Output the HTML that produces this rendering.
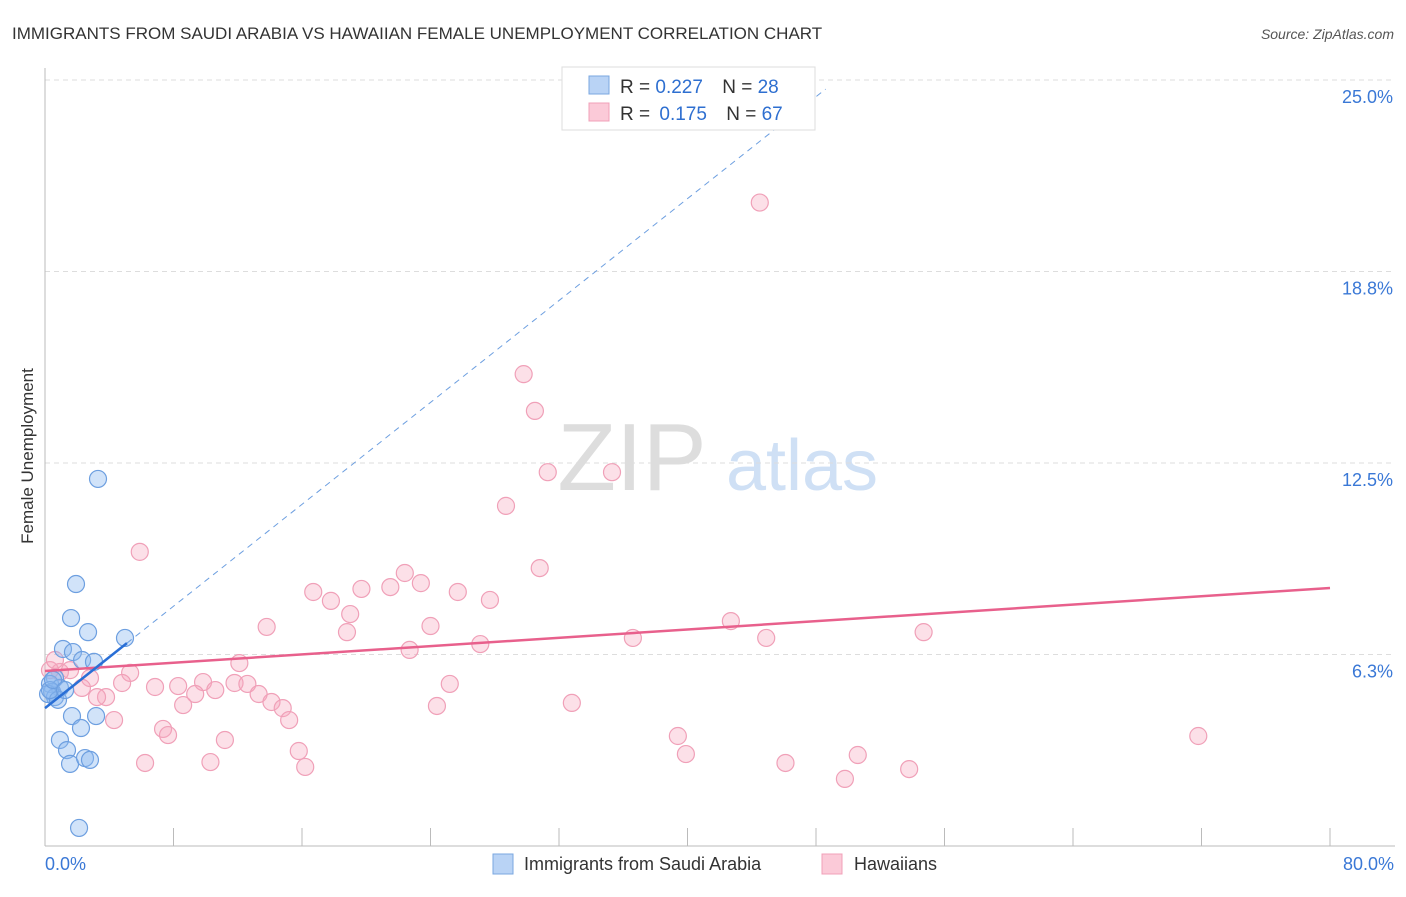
<!DOCTYPE html>
<html><head><meta charset="utf-8"><style>
body{margin:0;background:#fff;font-family:"Liberation Sans",sans-serif}
svg text{font-family:"Liberation Sans",sans-serif}
</style></head><body>
<svg id="c" width="1406" height="892">
<text x="12" y="39" font-size="17" fill="#333">IMMIGRANTS FROM SAUDI ARABIA VS HAWAIIAN FEMALE UNEMPLOYMENT CORRELATION CHART</text>
<text x="1394" y="39" font-size="14" fill="#555" text-anchor="end" font-style="italic">Source: ZipAtlas.com</text>
<text x="33" y="456" font-size="17" fill="#333" text-anchor="middle" transform="rotate(-90 33 456)">Female Unemployment</text>
<g><text x="632" y="490" font-size="96" fill="#ddd" text-anchor="middle" font-family="Liberation Serif,serif">ZIP</text><text x="802" y="490" font-size="72" fill="#cfe0f5" text-anchor="middle">atlas</text></g>
<g id="grid"></g><g id="axes"></g><g id="pts"></g><g id="lines"></g>
<g>
<rect x="562" y="67" width="253" height="63" fill="#fff" stroke="#ddd"/>
<rect x="589" y="76" width="20" height="18" fill="#b9d3f5" stroke="#7aa7e0"/>
<rect x="589" y="103" width="20" height="18" fill="#fbcad8" stroke="#f0a0b8"/>
<text x="620" y="93" font-size="19" fill="#333">R = <tspan fill="#2e6fd0">0.227</tspan>  <tspan dx="14">N = </tspan><tspan fill="#2e6fd0">28</tspan></text>
<text x="620" y="120" font-size="19" fill="#333">R = <tspan fill="#2e6fd0" dx="4">0.175</tspan>  <tspan dx="14">N = </tspan><tspan fill="#2e6fd0">67</tspan></text>
</g>
<g>
<rect x="493" y="854" width="20" height="20" fill="#b9d3f5" stroke="#7aa7e0"/>
<text x="524" y="870" font-size="18" fill="#333">Immigrants from Saudi Arabia</text>
<rect x="822" y="854" width="20" height="20" fill="#fbcad8" stroke="#f0a0b8"/>
<text x="854" y="870" font-size="18" fill="#333">Hawaiians</text>
</g>
</svg>
<script>
const yTicks=[25,18.75,12.5,6.25];
const yTickLabels=["25.0%","18.8%","12.5%","6.3%"];
const xTickVals=[0,8,16,24,32,40,48,56,64,72,80];
const blueX=[3.3,1.93,1.62,2.68,1.12,1.74,2.31,3.05,4.98,0.62,0.31,0.93,0.44,0.62,0.19,0.81,1.68,3.18,2.24,0.93,1.37,1.56,2.49,2.8,2.12,0.31,0.5,1.25];
const blueY=[11.98,8.55,7.44,6.98,6.43,6.33,6.07,6.01,6.79,5.48,5.29,5.16,5.03,4.86,4.96,4.77,4.24,4.24,3.85,3.46,3.13,2.68,2.87,2.81,0.59,5.09,5.42,5.09];
const pinkX=[44.5,29.8,30.5,31.3,35.3,28.7,5.9,30.8,22.4,23.4,21.5,19.7,16.7,25.7,17.8,27.7,19.0,13.8,24.0,18.8,42.7,36.6,44.9,54.7,27.1,22.7,12.1,5.3,0.93,1.56,2.8,0.31,2.3,4.8,6.85,8.29,9.84,11.8,12.6,13.3,10.6,9.35,3.8,3.24,8.6,14.1,14.8,25.2,24.4,32.8,4.3,15.2,7.35,7.66,11.2,15.8,39.4,39.9,6.23,10.3,16.2,46.1,50.6,49.8,53.8,71.8,0.62];
const pinkY=[21.0,15.4,14.2,12.2,12.2,11.1,9.6,9.07,8.91,8.58,8.45,8.39,8.29,8.29,8.0,8.03,7.57,7.15,7.18,6.98,7.34,6.79,6.79,6.98,6.59,6.40,5.97,5.65,5.68,5.74,5.48,5.74,5.16,5.32,5.19,5.22,5.35,5.32,5.29,4.96,5.09,4.96,4.86,4.86,4.6,4.7,4.5,5.29,4.57,4.67,4.11,4.11,3.82,3.62,3.46,3.10,3.59,3.0,2.71,2.74,2.58,2.71,2.97,2.19,2.51,3.59,6.07];
const blueFit=[4.5,0.4157];
const pinkFit=[5.71,0.0339];
const X=v=>45+v*1285/80, Y=v=>846-v*191.5/6.25;
const NS="http://www.w3.org/2000/svg";
function mk(p,t,a){const e=document.createElementNS(NS,t);for(const k in a)e.setAttribute(k,a[k]);document.getElementById(p).appendChild(e);return e;}
yTicks.forEach((v,i)=>{
 const g=mk('grid','line',{x1:45,x2:1395,y1:Y(v),y2:Y(v),stroke:'#ddd','stroke-dasharray':'5,4'});
 
 
 const t=mk('grid','text',{x:1393,y:Y(v)+23,'font-size':18,fill:'#3a78d6','text-anchor':'end'});t.textContent=yTickLabels[i];
 
 
});
const la=mk('axes','line',{x1:45,x2:45,y1:68,y2:846,stroke:'#bbb'});


const ba=mk('axes','line',{x1:45,x2:1395,y1:846,y2:846,stroke:'#bbb'});


xTickVals.forEach(v=>{const t=mk('axes','line',{x1:X(v),x2:X(v),y1:828,y2:846,stroke:'#bbb'});
 
 });
const x0=mk('axes','text',{x:45,y:870,'font-size':18,fill:'#3a78d6'});x0.textContent='0.0%';


const x1=mk('axes','text',{x:1394,y:870,'font-size':18,fill:'#3a78d6','text-anchor':'end'});x1.textContent='80.0%';


pinkX.forEach((v,i)=>{const c=mk('pts','circle',{cx:X(v),cy:Y(pinkY[i]),r:8.5,fill:'rgba(245,165,190,0.35)',stroke:'#f0a0b8','stroke-width':1.2});
 
 });
blueX.forEach((v,i)=>{const c=mk('pts','circle',{cx:X(v),cy:Y(blueY[i]),r:8.5,fill:'rgba(140,185,240,0.4)',stroke:'#6d9fe0','stroke-width':1.2});
 
 });
const pl=mk('lines','line',{x1:X(0),y1:Y(pinkFit[0]),x2:X(80),y2:Y(pinkFit[0]+80*pinkFit[1]),stroke:'#e8608c','stroke-width':2.5});


const bd=mk('lines','line',{x1:X(5.1),y1:Y(blueFit[0]+5.1*blueFit[1]),x2:X(48.6),y2:Y(blueFit[0]+48.6*blueFit[1]),stroke:'#6d9fe0','stroke-width':1,'stroke-dasharray':'6,5'});


const bl=mk('lines','line',{x1:X(0),y1:Y(blueFit[0]),x2:X(5.1),y2:Y(blueFit[0]+5.1*blueFit[1]),stroke:'#2a6fd6','stroke-width':2.5});


</script>
</body></html>
